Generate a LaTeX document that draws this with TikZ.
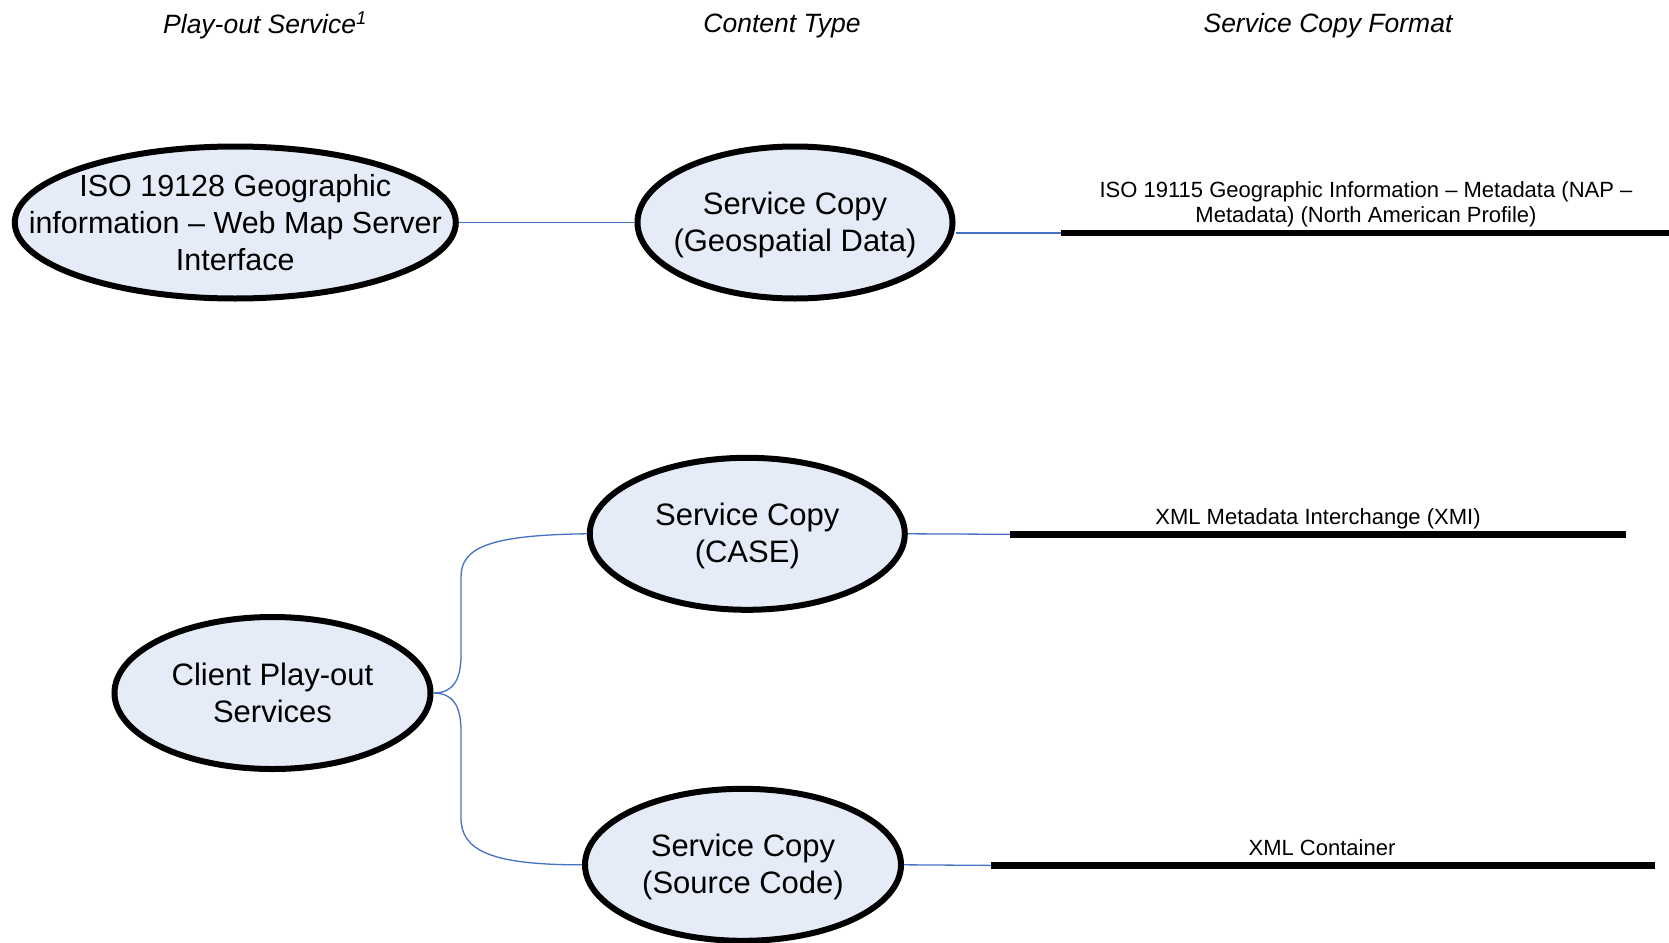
\documentclass[tikz,border=0pt]{standalone}
\usepackage{fontspec}
\setmainfont{Liberation Sans}
\usetikzlibrary{shapes.geometric}
\definecolor{ellfill}{RGB}{230,236,247}
\definecolor{conn}{RGB}{68,114,196}
\begin{document}
\begin{tikzpicture}[x=1pt,y=-1pt,
  ell/.style={ellipse,draw=black,line width=6pt,fill=ellfill,inner sep=0pt},
  etxt/.style={align=center,inner sep=0pt,font=\fontsize{31}{37.3}\selectfont},
  hdr/.style={font=\fontsize{26.5}{30}\selectfont\itshape,inner sep=0pt},
  lbl/.style={font=\fontsize{22}{25.5}\selectfont,align=center,inner sep=0pt},
  cn/.style={draw=conn,line width=1.3pt},
  fmt/.style={draw=black,line width=6.5pt}]
\useasboundingbox (0,0) rectangle (1669,942);
% headers
\node[hdr,anchor=west] (h1) at (163,25.5) {Play-out Service\textsuperscript{1}};
\node[hdr] (h2) at (782,25.5) {Content Type};
\node[hdr] (h3) at (1328,25.5) {Service Copy Format};
% ellipses
\node[ell,minimum width=441,minimum height=152] (iso) at (235.3,222.5) {};
\node[etxt,font=\fontsize{30.5}{37.3}\selectfont] (isot) at (iso.center) {ISO 19128 Geographic\\information – Web Map Server\\Interface};
\node[ell,minimum width=315,minimum height=152] (geo) at (795,222.5) {};
\node[etxt] (geot) at ([yshift=-2.5pt]geo.center) {Service Copy\\(Geospatial Data)};
\node[ell,minimum width=315,minimum height=152] (case) at (747.3,533.8) {};
\node[etxt] (caset) at ([yshift=-2.5pt]case.center) {Service Copy\\(CASE)};
\node[ell,minimum width=316,minimum height=152] (cl) at (272.5,693) {};
\node[etxt] (clt) at (cl.center) {Client Play-out\\Services};
\node[ell,minimum width=316,minimum height=152] (src) at (743,864.8) {};
\node[etxt] (srct) at ([yshift=-2pt]src.center) {Service Copy\\(Source Code)};
% format lines
\coordinate (g1) at (1061,233);
\coordinate (g2) at (1669,233);
\coordinate (c1) at (1010,534.3);
\coordinate (c2) at (1626,534.3);
\coordinate (s1) at (991,865.4);
\coordinate (s2) at (1655,865.4);
\draw[fmt] (g1) -- (g2);
\draw[fmt] (c1) -- (c2);
\draw[fmt] (s1) -- (s2);
\node[lbl] (lg) at (1366,204.5) {ISO 19115 Geographic Information – Metadata (NAP –\\Metadata) (North American Profile)};
\node[lbl] (lc) at (1318,519) {XML Metadata Interchange (XMI)};
\node[lbl] (ls) at (1322,848) {XML Container};
% connectors
\draw[cn] (iso.east) -- (geo.west);
\draw[cn] ([yshift=-10.5pt]geo.east) -- (g1);
\draw[cn] (case.east) -- (c1);
\draw[cn] (src.east) -- (s1);
\draw[cn] (cl.east) .. controls (453,693) and (461,680) .. (461,655) -- (461,577)
   .. controls (461,548) and (488,535) .. (case.west);
\draw[cn] (cl.east) .. controls (453,693) and (461,706) .. (461,731) -- (461,818)
   .. controls (461,850) and (490,865) .. (src.west);
\end{tikzpicture}
\end{document}
